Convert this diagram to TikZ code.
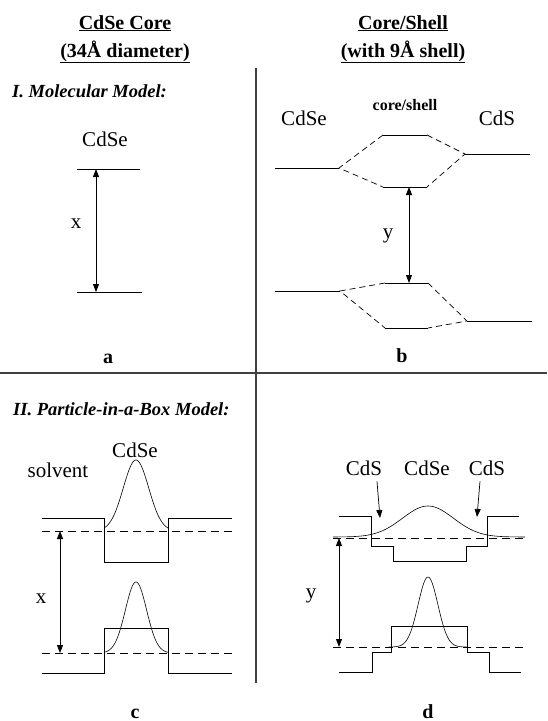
\documentclass[tikz,border=0pt]{standalone}
\usepackage{fontspec}
\setmainfont{Liberation Serif}
\usetikzlibrary{arrows.meta}

\begin{document}
\begin{tikzpicture}[x=1pt, y=-1pt, >={Triangle[length=8pt,width=6pt]},
  txt/.style={font=\fontsize{21}{24}\selectfont, inner sep=0pt, anchor=base},
  heading/.style={font=\fontsize{20}{24}\selectfont\bfseries, inner sep=0pt, anchor=base},
  model/.style={font=\fontsize{18.5}{22}\selectfont\bfseries\itshape, inner sep=0pt, anchor=base west},
  panel/.style={font=\fontsize{20}{24}\selectfont\bfseries, inner sep=0pt, anchor=base},
  elevel/.style={line width=0.9pt},
  corr/.style={line width=0.7pt, dash pattern=on 6pt off 4pt},
  fermi/.style={line width=0.7pt, dash pattern=on 8pt off 5pt},
  wave/.style={line width=0.6pt},
  gaparrow/.style={<->, line width=0.9pt},
  divider/.style={line width=1.2pt, black!75}]

\useasboundingbox (0,0) rectangle (547,721);

\node[heading] (corehead) at (125,29) {\underline{CdSe Core}};
\node[heading] (corediam) at (125,57) {\underline{(34Å diameter)}};
\node[heading] (shellhead) at (403,29) {\underline{Core/Shell}};
\node[heading] (shelldiam) at (403,57) {\underline{(with 9Å shell)}};

\draw[divider] (256,68) -- (256,683);
\draw[divider] (0,373) -- (547,373);

\node[model] (molmodel) at (12,97) {I. Molecular Model:};
\node[model] (pibmodel) at (13,415) {II. Particle-in-a-Box Model:};

% a
\node[txt] (cdsea) at (105,146) {CdSe};
\draw[elevel] (77,169) -- (140,169);
\draw[elevel] (77,292) -- (142,292);
\coordinate (atop) at (96,169);
\coordinate (abot) at (96,292);
\draw[gaparrow] (atop) -- (abot);
\node[txt] (xa) at (76,228) {x};
\node[panel] (pa) at (108,363) {a};

% b
\node[txt] (cdseb) at (304,125) {CdSe};
\node[font=\fontsize{16}{19}\selectfont\bfseries, inner sep=0pt, anchor=base] (coreshell) at (405,110) {core/shell};
\node[txt] (cdsb) at (497,125) {CdS};
\draw[elevel] (275,168) -- (339,168);
\draw[elevel] (383,135) -- (427,135);
\draw[elevel] (383,187) -- (427,187);
\draw[elevel] (465,154) -- (530,154);
\draw[corr] (383,135) -- (339,168) -- (383,187);
\draw[corr] (427,135) -- (465,154) -- (427,187);
\draw[elevel] (275,291) -- (340,291);
\draw[elevel] (385,283) -- (428,283);
\draw[elevel] (385,328) -- (428,328);
\draw[elevel] (467,321) -- (532,321);
\draw[corr] (385,283) -- (340,291) -- (385,328);
\draw[corr] (428,283) -- (467,321) -- (428,328);
\coordinate (btop) at (409,187);
\coordinate (bbot) at (409,283);
\draw[gaparrow] (btop) -- (bbot);
\node[txt] (yb) at (388,238) {y};
\node[panel] (pb) at (402,362) {b};

% c
\node[txt] (cdsec) at (135,457) {CdSe};
\node[txt] (solvent) at (58,477) {solvent};
\draw[elevel] (42,518) -- (104,518) -- (104,562) -- (168,562) -- (168,518) -- (232,518);
\draw[fermi] (42,531) -- (232,531);
\draw[wave] plot[domain=104:168, samples=80, smooth] (\x, {531-71*exp(-(((\x-136)/18)^2))});
\draw[elevel] (42,673) -- (104,673) -- (104,628) -- (168,628) -- (168,673) -- (232,673);
\draw[fermi] (42,653) -- (232,653);
\draw[wave] plot[domain=104:168, samples=80, smooth] (\x, {653-71*exp(-(((\x-136)/15)^2))});
\coordinate (ctop) at (60,531);
\coordinate (cbot) at (60,653);
\draw[gaparrow] (ctop) -- (cbot);
\node[txt] (xc) at (41,603) {x};
\node[panel] (pc) at (135,718) {c};

% d
\node[txt] (cdsl) at (364,475) {CdS};
\node[txt] (cdsed) at (427,475) {CdSe};
\node[txt] (cdsr) at (487,475) {CdS};
\coordinate (ltip) at (380,518);
\coordinate (rtip) at (477,517);
\draw[->, line width=0.7pt] ([shift={(13,6)}]cdsl.south) -- (ltip);
\draw[->, line width=0.7pt] ([shift={(-7,6)}]cdsr.south) -- (rtip);
\draw[elevel] (339,516) -- (371,516) -- (371,546) -- (393,546) -- (393,561) -- (466,561) -- (466,546) -- (487,546) -- (487,516) -- (519,516);
\draw[fermi] (333,538) -- (525,538);
\draw[wave] plot[domain=333:525, samples=100, smooth] (\x, {537-31*exp(-(((\x-428)/36)^2))});
\draw[elevel] (339,672) -- (372,672) -- (372,652) -- (391,652) -- (391,626) -- (467,626) -- (467,652) -- (489,652) -- (489,672) -- (521,672);
\draw[fermi] (333,647) -- (525,647);
\draw[wave] plot[domain=389:467, samples=80, smooth] (\x, {647-70*exp(-(((\x-428)/14)^2))});
\coordinate (dtop) at (339,538);
\coordinate (dbot) at (339,647);
\draw[gaparrow] (dtop) -- (dbot);
\node[txt] (yd) at (311,598) {y};
\node[panel] (pd) at (428,718) {d};
\end{tikzpicture}
\end{document}
